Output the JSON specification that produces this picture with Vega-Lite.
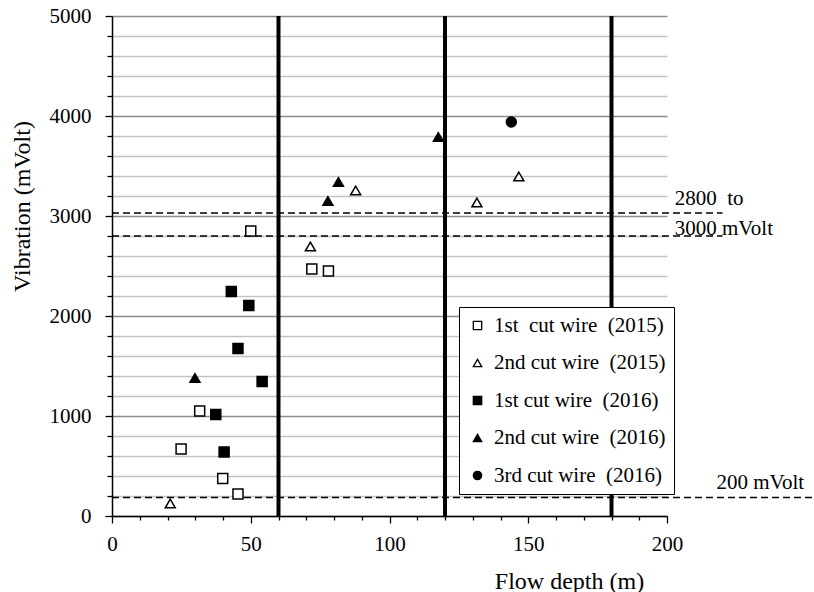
{
  "$schema": "https://vega.github.io/schema/vega-lite/v6.json",
  "width": 555,
  "height": 500,
  "autosize": {"type": "none"},
  "padding": {"left": 112, "top": 16, "right": 147, "bottom": 76},
  "background": "white",
  "config": {
    "view": {"stroke": null},
    "font": "Liberation Serif",
    "text": {"font": "Liberation Serif"},
    "axis": {"labelOverlap": false}
  },
  "datasets": {
    "points": [
      {"series": "1st\u00a0 cut wire\u00a0 (2015)", "depth": 50, "level": 2850},
      {"series": "1st\u00a0 cut wire\u00a0 (2015)", "depth": 72, "level": 2470},
      {"series": "1st\u00a0 cut wire\u00a0 (2015)", "depth": 78, "level": 2450},
      {"series": "1st\u00a0 cut wire\u00a0 (2015)", "depth": 31.6, "level": 1050},
      {"series": "1st\u00a0 cut wire\u00a0 (2015)", "depth": 24.9, "level": 670},
      {"series": "1st\u00a0 cut wire\u00a0 (2015)", "depth": 39.9, "level": 375},
      {"series": "1st\u00a0 cut wire\u00a0 (2015)", "depth": 45.4, "level": 220},
      {"series": "2nd cut wire\u00a0 (2015)", "depth": 21, "level": 125},
      {"series": "2nd cut wire\u00a0 (2015)", "depth": 71.5, "level": 2695},
      {"series": "2nd cut wire\u00a0 (2015)", "depth": 87.8, "level": 3255},
      {"series": "2nd cut wire\u00a0 (2015)", "depth": 131.5, "level": 3135},
      {"series": "2nd cut wire\u00a0 (2015)", "depth": 146.6, "level": 3395},
      {"series": "1st cut wire\u00a0 (2016)", "depth": 43, "level": 2245},
      {"series": "1st cut wire\u00a0 (2016)", "depth": 49.3, "level": 2105},
      {"series": "1st cut wire\u00a0 (2016)", "depth": 45.4, "level": 1675},
      {"series": "1st cut wire\u00a0 (2016)", "depth": 54.1, "level": 1345},
      {"series": "1st cut wire\u00a0 (2016)", "depth": 37.4, "level": 1015},
      {"series": "1st cut wire\u00a0 (2016)", "depth": 40.4, "level": 640},
      {"series": "2nd cut wire\u00a0 (2016)", "depth": 29.9, "level": 1380},
      {"series": "2nd cut wire\u00a0 (2016)", "depth": 77.8, "level": 3150},
      {"series": "2nd cut wire\u00a0 (2016)", "depth": 81.6, "level": 3340},
      {"series": "2nd cut wire\u00a0 (2016)", "depth": 117.6, "level": 3790},
      {"series": "3rd cut wire\u00a0 (2016)", "depth": 143.9, "level": 3940}
    ],
    "vlines": [
      {"depth": 60, "level": 0, "top": 5000},
      {"depth": 120, "level": 0, "top": 5000},
      {"depth": 180, "level": 0, "top": 257},
      {"depth": 180, "level": 2087, "top": 5000}
    ],
    "dashed": [
      {"level": 3030, "depth": 0, "to": 220},
      {"level": 2800, "depth": 0, "to": 220},
      {"level": 185, "depth": 0, "to": 253}
    ],
    "notes": [
      {"label": "2800\u00a0 to", "depth": 202.8, "level": 3167},
      {"label": "3000 mVolt", "depth": 202.8, "level": 2867},
      {"label": "200 mVolt", "depth": 217.8, "level": 327}
    ]
  },
  "encoding": {
    "x": {
      "field": "depth", "type": "quantitative",
      "scale": {"domain": [0, 200]},
      "axis": {
        "title": "Flow depth (m)",
        "values": [0,10,20,30,40,50,60,70,80,90,100,110,120,130,140,150,160,170,180,190,200],
        "format": "d",
        "labelExpr": "datum.value % 50 === 0 ? datum.label : ''",
        "grid": false,
        "ticks": true,
        "tickSize": {"condition": {"test": "datum.value % 50 === 0", "value": 7}, "value": 4},
        "tickColor": "black",
        "tickWidth": 1.3,
        "domainColor": "black",
        "domainWidth": 1.5,
        "labelFont": "Liberation Serif",
        "labelFontSize": 21,
        "labelColor": "black",
        "labelPadding": 10,
        "labelOverlap": false,
        "labelFlush": false,
        "titleFont": "Liberation Serif",
        "titleFontSize": 24,
        "titleFontWeight": "normal",
        "titleColor": "black",
        "titleX": 457,
        "titleY": 65,
        "titleAlign": "center",
        "titleBaseline": "middle"
      }
    },
    "y": {
      "field": "level", "type": "quantitative",
      "scale": {"domain": [0, 5000]},
      "axis": {
        "title": "Vibration  (mVolt)",
        "values": [0,200,400,600,800,1000,1200,1400,1600,1800,2000,2200,2400,2600,2800,3000,3200,3400,3600,3800,4000,4200,4400,4600,4800,5000],
        "format": "d",
        "labelExpr": "datum.value % 1000 === 0 ? datum.label : ''",
        "grid": true,
        "gridColor": {"condition": {"test": "datum.value % 1000 === 0", "value": "#8c8c8c"}, "value": "#c2c2c2"},
        "gridWidth": 1.3,
        "ticks": true,
        "tickSize": {"condition": {"test": "datum.value % 1000 === 0", "value": 7}, "value": 5},
        "tickColor": "black",
        "tickWidth": 1.3,
        "domainColor": "black",
        "domainWidth": 1.5,
        "labelFont": "Liberation Serif",
        "labelFontSize": 21,
        "labelColor": "black",
        "labelPadding": 14,
        "labelOverlap": false,
        "labelFlush": false,
        "titleFont": "Liberation Serif",
        "titleFontSize": 24,
        "titleFontWeight": "normal",
        "titleColor": "black",
        "titleAngle": -90,
        "titleX": -89.5,
        "titleY": 190,
        "titleAlign": "center",
        "titleBaseline": "middle"
      }
    }
  },
  "layer": [
    {
      "data": {"name": "dashed"},
      "mark": {"type": "rule", "strokeDash": [7, 4], "strokeWidth": 1.5, "color": "black"},
      "encoding": {
        "x2": {"field": "to"}
      }
    },
    {
      "data": {"name": "vlines"},
      "mark": {"type": "rule", "strokeWidth": 4, "color": "black"},
      "encoding": {
        "y2": {"field": "top"}
      }
    },
    {
      "data": {"name": "points"},
      "mark": {"type": "point", "filled": true, "strokeWidth": 1.5, "opacity": 1, "size": 100},
      "encoding": {
        "shape": {
          "field": "series", "type": "nominal",
          "scale": {
            "domain": ["1st\u00a0 cut wire\u00a0 (2015)", "2nd cut wire\u00a0 (2015)", "1st cut wire\u00a0 (2016)", "2nd cut wire\u00a0 (2016)", "3rd cut wire\u00a0 (2016)"],
            "range": ["square", "triangle-up", "square", "triangle-up", "circle"]
          },
          "legend": {
            "orient": "none", "legendX": 347, "legendY": 291, "title": null,
            "padding": 8, "rowPadding": 15.5, "labelFont": "Liberation Serif", "labelFontSize": 21,
            "labelColor": "black", "labelOffset": 6, "labelLimit": 0, "symbolSize": 70,
            "strokeColor": "black", "fillColor": "white", "symbolStrokeWidth": 1.3
          }
        },
        "fill": {
          "field": "series", "type": "nominal",
          "scale": {
            "domain": ["1st\u00a0 cut wire\u00a0 (2015)", "2nd cut wire\u00a0 (2015)", "1st cut wire\u00a0 (2016)", "2nd cut wire\u00a0 (2016)", "3rd cut wire\u00a0 (2016)"],
            "range": ["white", "white", "black", "black", "black"]
          },
          "legend": {
            "orient": "none", "legendX": 347, "legendY": 291, "title": null,
            "padding": 8, "rowPadding": 15.5, "labelFont": "Liberation Serif", "labelFontSize": 21,
            "labelColor": "black", "labelOffset": 6, "labelLimit": 0, "symbolSize": 70,
            "strokeColor": "black", "fillColor": "white", "symbolStrokeWidth": 1.3
          }
        },
        "stroke": {
          "field": "series", "type": "nominal",
          "scale": {
            "domain": ["1st\u00a0 cut wire\u00a0 (2015)", "2nd cut wire\u00a0 (2015)", "1st cut wire\u00a0 (2016)", "2nd cut wire\u00a0 (2016)", "3rd cut wire\u00a0 (2016)"],
            "range": ["black", "black", "black", "black", "black"]
          },
          "legend": {
            "orient": "none", "legendX": 347, "legendY": 291, "title": null,
            "padding": 8, "rowPadding": 15.5, "labelFont": "Liberation Serif", "labelFontSize": 21,
            "labelColor": "black", "labelOffset": 6, "labelLimit": 0, "symbolSize": 70,
            "strokeColor": "black", "fillColor": "white", "symbolStrokeWidth": 1.3
          }
        }
      }
    },
    {
      "data": {"name": "notes"},
      "mark": {"type": "text", "align": "left", "baseline": "middle", "fontSize": 21, "font": "Liberation Serif", "color": "black"},
      "encoding": {
        "text": {"field": "label"}
      }
    }
  ]
}
